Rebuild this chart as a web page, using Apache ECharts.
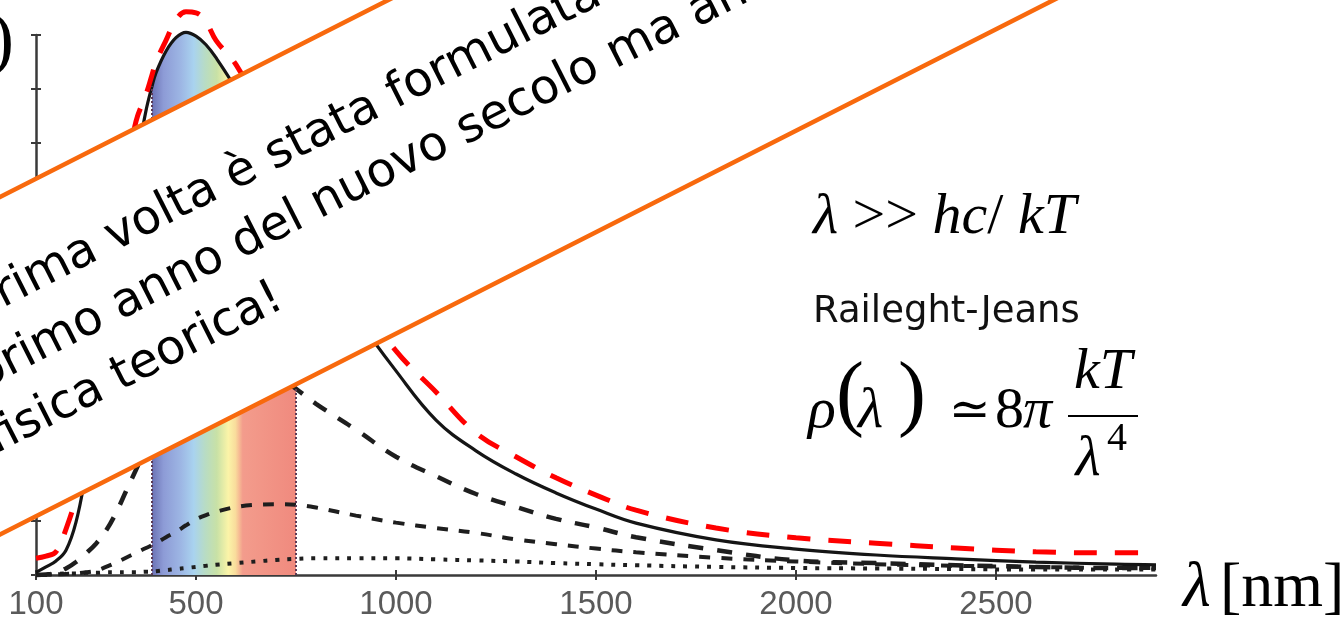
<!DOCTYPE html>
<html>
<head>
<meta charset="utf-8">
<script src="https://cdn.jsdelivr.net/npm/echarts@6/dist/echarts.min.js"></script>
<style>
  html, body { margin: 0; padding: 0; background: #fff; }
  #chart { width: 1340px; height: 624px; }
</style>
</head>
<body>
<div id="chart"></div>
<script>
// wavelengths in nm, shared by all curves
const wavelengths = [100, 125, 150, 175, 200, 225, 250, 275, 300, 325, 350, 375, 390, 400, 425, 450, 475, 500, 525, 550,
  600, 650, 700, 750, 800, 900, 1000, 1100, 1200, 1300, 1400, 1500, 1600, 1800, 2000, 2200, 2400, 2600, 2800, 2900]

// curves (arbitrary units, axis 0..10)
const hotCurve = [0.05, 0.15, 0.26, 0.46, 0.98, 1.9, 3.0, 4.2, 5.4, 6.6, 7.6, 8.6, 9.05, 9.3, 9.7, 9.95, 10.05, 9.98, 9.82, 9.58,
  9.0, 8.3, 7.5, 6.75, 6.0, 4.8, 3.78, 2.87, 2.3, 1.87, 1.52, 1.22, 0.96, 0.65, 0.48, 0.37, 0.3, 0.24, 0.2, 0.19]
const redCurve = [0.31, 0.35, 0.43, 0.85, 1.45, 2.4, 3.6, 4.9, 6.2, 7.4, 8.4, 8.9, 9.26, 9.5, 9.9, 10.28, 10.43, 10.41, 10.24, 9.9,
  9.45, 8.75, 7.95, 7.2, 6.45, 5.2, 4.15, 3.39, 2.63, 2.19, 1.8, 1.48, 1.2, 0.87, 0.69, 0.59, 0.5, 0.43, 0.41, 0.41]
const longDash = [0, 0.01, 0.04, 0.12, 0.24, 0.4, 0.58, 0.82, 1.15, 1.55, 1.95, 2.35, 2.57, 2.72, 3.05, 3.35, 3.6, 3.8, 3.93, 4.0,
  4.03, 3.93, 3.73, 3.45, 3.17, 2.69, 2.19, 1.83, 1.5, 1.26, 1.04, 0.88, 0.7, 0.46, 0.27, 0.22, 0.18, 0.15, 0.13, 0.13]
const shortDash = [0, 0, 0.01, 0.02, 0.03, 0.05, 0.08, 0.15, 0.23, 0.32, 0.41, 0.5, 0.55, 0.59, 0.7, 0.8, 0.92, 1.03, 1.11, 1.17,
  1.26, 1.3, 1.31, 1.3, 1.25, 1.1, 0.97, 0.87, 0.78, 0.66, 0.57, 0.49, 0.42, 0.32, 0.25, 0.2, 0.17, 0.15, 0.13, 0.13]
const dotted = [0, 0.01, 0.02, 0.03, 0.03, 0.04, 0.04, 0.05, 0.05, 0.05, 0.05, 0.06, 0.06, 0.07, 0.09, 0.11, 0.13, 0.15, 0.17, 0.19,
  0.22, 0.25, 0.28, 0.3, 0.31, 0.31, 0.31, 0.29, 0.27, 0.25, 0.22, 0.2, 0.18, 0.15, 0.13, 0.12, 0.11, 0.1, 0.1, 0.1]

const visibleRange = [390, 750]
const xTickValues = [100, 500, 1000, 1500, 2000, 2500]

const bannerLines = [
  'prima volta è stata formulata a fine 1900, nel',
  'primo anno del nuovo secolo ma anche della',
  'fisica teorica!'
]

const ORANGE = '#f8690d'
const SERIF = '"Liberation Serif", "DejaVu Serif", serif'
const SANS = '"DejaVu Sans", Verdana, sans-serif'

const chart = echarts.init(document.getElementById('chart'))

function pairs(vals) {
  return wavelengths.map((w, i) => [w, vals[i]])
}

const spectrumData = pairs(hotCurve).filter(p => p[0] >= visibleRange[0] && p[0] <= visibleRange[1])
const hotAt = w => hotCurve[wavelengths.indexOf(w)]

const rainbow = new echarts.graphic.LinearGradient(0, 0, 1, 0, [
  { offset: 0, color: '#6c73b5' },
  { offset: 0.08, color: '#8d9bd6' },
  { offset: 0.2, color: '#9db6e4' },
  { offset: 0.29, color: '#a9d3ef' },
  { offset: 0.37, color: '#b8dcc4' },
  { offset: 0.45, color: '#c8e1a6' },
  { offset: 0.53, color: '#fbf4a8' },
  { offset: 0.58, color: '#f9dc9c' },
  { offset: 0.63, color: '#f39c8c' },
  { offset: 1, color: '#f08a7e' }
])

function curve(name, vals, color, width, dash, z) {
  return {
    name,
    type: 'line',
    data: pairs(vals),
    smooth: 0.4,
    clip: false,
    showSymbol: false,
    silent: true,
    z,
    lineStyle: { color, width, type: dash }
  }
}

// banner geometry (rotated white band with orange border)
const bannerAngle = Math.atan(0.5073)
const fontSize = 48
const lineY = [104, 168, 231]
const lineX = [-78, -103, -120]

const bannerTexts = bannerLines.map((t, i) => ({
  type: 'text',
  x: lineX[i],
  y: lineY[i] - 0.34 * fontSize,
  z: 101,
  style: {
    text: t,
    font: fontSize + 'px ' + SANS,
    fill: '#000',
    verticalAlign: 'middle',
    textVerticalAlign: 'middle'
  }
}))

function label(text, x, y, size, italic, align) {
  return {
    type: 'text',
    x, y, z: 60,
    style: {
      text,
      font: (italic ? 'italic ' : '') + size + 'px ' + SERIF,
      fill: '#000',
      align: align || 'left',
      textAlign: align || 'left',
      verticalAlign: 'middle',
      textVerticalAlign: 'middle'
    }
  }
}

const option = {
  animation: false,
  backgroundColor: '#fff',
  grid: { left: 36, right: 184, top: 35, bottom: 49, containLabel: false, outerBoundsMode: 'none' },
  xAxis: [
    {
      type: 'value',
      min: 100,
      max: 2900,
      axisLine: { show: true, onZero: false, lineStyle: { color: '#3a3a3a', width: 2.5 } },
      axisTick: { show: true, length: 5, lineStyle: { color: '#3a3a3a', width: 2 }, customValues: xTickValues },
      axisLabel: {
        customValues: xTickValues,
        formatter: v => String(v),
        showMinLabel: true,
        fontSize: 33,
        color: '#5a5a5a',
        fontFamily: '"Liberation Sans", Arial, sans-serif',
        margin: 13
      },
      splitLine: { show: false }
    },
    {
      type: 'value',
      min: 100,
      max: 2900,
      position: 'bottom',
      axisLine: { show: false },
      axisTick: { show: true, inside: true, length: 5, lineStyle: { color: '#3a3a3a', width: 2 }, customValues: xTickValues },
      axisLabel: { show: false, customValues: xTickValues },
      splitLine: { show: false }
    }
  ],
  yAxis: [
    {
      type: 'value',
      min: 0,
      max: 10,
      interval: 1,
      axisLine: { show: true, onZero: false, lineStyle: { color: '#3a3a3a', width: 2.5 } },
      axisTick: { show: true, length: 5, lineStyle: { color: '#3a3a3a', width: 2 } },
      axisLabel: { show: false },
      splitLine: { show: false }
    },
    {
      type: 'value',
      min: 0,
      max: 10,
      interval: 1,
      position: 'left',
      axisLine: { show: false },
      axisTick: { show: true, inside: true, length: 5, lineStyle: { color: '#3a3a3a', width: 2 } },
      axisLabel: { show: false },
      splitLine: { show: false }
    }
  ],
  series: [
    {
      name: 'visibile',
      type: 'line',
      data: spectrumData,
      smooth: 0.4,
      clip: false,
      showSymbol: false,
      silent: true,
      z: 1,
      lineStyle: { width: 0, opacity: 0 },
      areaStyle: { color: rainbow, opacity: 1 },
      markLine: {
        silent: true,
        symbol: 'none',
        label: { show: false },
        lineStyle: { color: '#5b3a55', width: 2, type: [2, 2] },
        data: visibleRange.map(w => [{ coord: [w, 0] }, { coord: [w, hotAt(w)] }])
      }
    },
    curve('T4', dotted, '#1e1e1e', 4, [4, 8], 3),
    curve('T3', shortDash, '#1e1e1e', 4, [11, 11], 3),
    curve('T2', longDash, '#1e1e1e', 4.5, [15, 14], 3),
    curve('T1', hotCurve, '#151515', 3.2, 'solid', 4),
    curve('approx', redCurve, '#ff0000', 5, [23, 18], 5)
  ],
  graphic: [
    // y-axis name, mostly cut off at the left edge
    label('ρ(λ)', 14, 43, 72, false, 'right'),
    {
      type: 'group',
      x: 0,
      y: 197,
      rotation: bannerAngle,
      z: 100,
      children: [
        {
          type: 'rect',
          z: 100,
          shape: { x: -700, y: 0, width: 2800, height: 301 },
          style: { fill: '#fff', stroke: ORANGE, lineWidth: 4.5 }
        }
      ].concat(bannerTexts)
    },
    {
      type: 'text',
      x: 813, y: 218, z: 60,
      style: {
        text: '{i|λ}{r| >> }{i|hc}{r|/ }{i|kT}',
        rich: {
          i: { fontFamily: SERIF, fontStyle: 'italic', fontSize: 58, fill: '#000', color: '#000' },
          r: { fontFamily: SERIF, fontSize: 58, fill: '#000', color: '#000' }
        },
        verticalAlign: 'middle',
        textVerticalAlign: 'middle'
      }
    },
    {
      type: 'text',
      x: 813, y: 312, z: 60,
      style: { text: 'Raileght-Jeans', font: '37px ' + SANS, fill: '#111', verticalAlign: 'middle', textVerticalAlign: 'middle' }
    },
    label('ρ', 808, 412, 58, true),
    label('(', 836, 398, 84, false),
    label('λ', 858, 412, 58, true),
    label(')', 898, 398, 84, false),
    label('≃', 949, 413, 50, false),
    label('8', 995, 412, 58, false),
    label('π', 1023, 412, 58, true),
    label('kT', 1103, 373, 58, true, 'center'),
    {
      type: 'line',
      z: 60,
      shape: { x1: 1068, y1: 416, x2: 1138, y2: 416 },
      style: { stroke: '#000', lineWidth: 2 }
    },
    label('λ', 1088, 460, 58, true, 'center'),
    label('4', 1107, 439, 40, false),
    label('λ', 1183, 589, 64, true),
    label('[nm]', 1220, 589, 64, false)
  ]
}

chart.setOption(option)
</script>
</body>
</html>
